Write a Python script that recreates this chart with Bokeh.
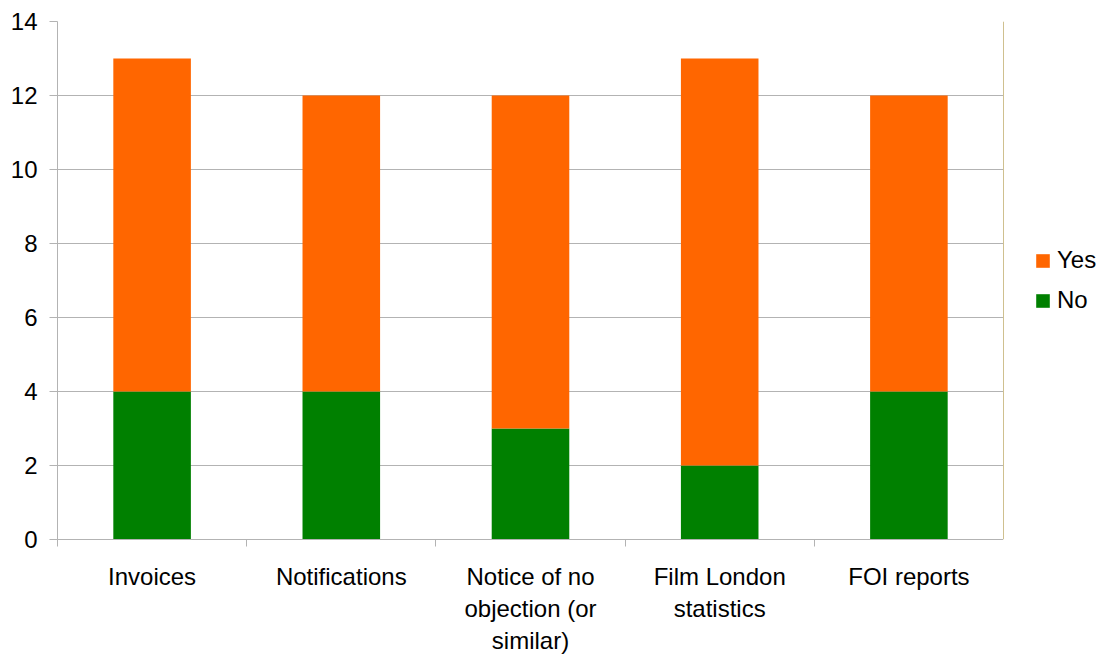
from bokeh.plotting import figure
from bokeh.layouts import row
from bokeh.models import Range1d, LinearAxis, FixedTicker, Legend, LegendItem
from bokeh.embed import file_html
from bokeh.resources import INLINE

categories = ["Invoices", "Notifications", "Notice of no\nobjection (or\nsimilar)",
              "Film London\nstatistics", "FOI reports"]
no_values = [4, 4, 3, 2, 4]
yes_values = [9, 8, 9, 11, 8]
y_ticks = [0, 2, 4, 6, 8, 10, 12, 14]
series_names = ["No", "Yes"]

ORANGE = "#ff6600"
GREEN = "#008000"
GRID = "#b3b3b3"
FONT = "Liberation Sans"

n = len(categories)
slot_centers = [i + 0.5 for i in range(n)]
slot_edges = list(range(n + 1))

p = figure(width=1003, height=657, x_range=Range1d(0, n),
           y_range=Range1d(0, 14), output_backend="svg", toolbar_location=None,
           x_axis_location=None, min_border_left=57, min_border_right=0,
           min_border_top=21, min_border_bottom=118)
p.outline_line_color = None
p.background_fill_color = "white"
p.border_fill_color = "white"

data = dict(x=slot_centers, No=no_values, Yes=yes_values)
rs = p.vbar_stack(series_names, x="x", width=0.41, source=data,
                  color=[GREEN, ORANGE], line_color=None)

# y axis
p.yaxis.ticker = FixedTicker(ticks=y_ticks)
p.yaxis.axis_line_color = GRID
p.yaxis.major_tick_line_color = GRID
p.yaxis.major_tick_out = 8
p.yaxis.major_tick_in = 0
p.yaxis.minor_tick_line_color = None
p.yaxis.major_label_standoff = 12
p.yaxis.major_label_text_font = FONT
p.yaxis.major_label_text_font_size = "24px"
p.yaxis.major_label_text_color = "black"

p.xgrid.grid_line_color = None
p.ygrid.grid_line_color = GRID
p.ygrid.ticker = FixedTicker(ticks=y_ticks)

# category names centred under each bar, tick marks on the category boundaries
cat_axis = LinearAxis(ticker=FixedTicker(ticks=slot_centers, minor_ticks=slot_edges),
                      axis_line_color=GRID, major_tick_line_color=None,
                      minor_tick_line_color=GRID, minor_tick_out=7, minor_tick_in=0,
                      major_label_text_font=FONT, major_label_text_font_size="24px",
                      major_label_text_color="black", major_label_standoff=16,
                      major_label_overrides={c: lab for c, lab in zip(slot_centers, categories)})
p.add_layout(cat_axis, "below")

# legend panel to the right of the chart; the swatch glyphs sit outside its view
lg = figure(width=105, height=657, x_range=Range1d(0, 1), y_range=Range1d(0, 1),
            output_backend="svg", toolbar_location=None,
            x_axis_location=None, y_axis_location=None,
            min_border=0)
lg.outline_line_color = None
lg.grid.visible = False
swatch_no = lg.vbar(x=[-10], top=[1], width=0.1, color=GREEN, line_color=None)
swatch_yes = lg.vbar(x=[-10], top=[1], width=0.1, color=ORANGE, line_color=None)

legend = Legend(items=[LegendItem(label=series_names[1], renderers=[swatch_yes]),
                       LegendItem(label=series_names[0], renderers=[swatch_no])],
                location=(31, 225), orientation="vertical",
                glyph_width=17, glyph_height=17, label_height=20,
                label_text_font=FONT, label_text_font_size="24px",
                label_text_color="black",
                label_standoff=6, spacing=12, padding=0, margin=0,
                border_line_color=None, background_fill_alpha=0)
lg.add_layout(legend)

layout = row(p, lg, spacing=0)
open("out.html", "w").write(file_html(layout, INLINE))
